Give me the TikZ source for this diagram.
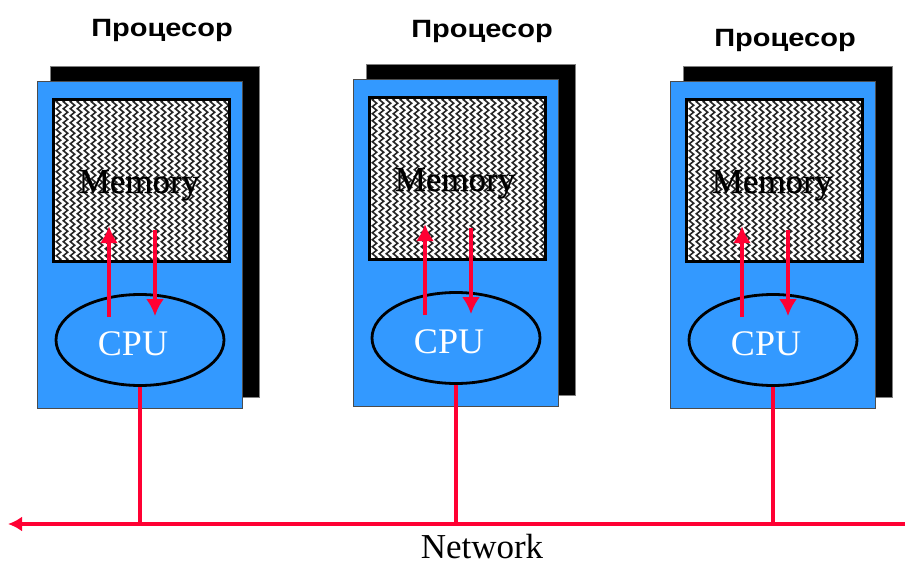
\documentclass[tikz,border=0pt]{standalone}
\usepackage{fontspec}
\setmainfont{Liberation Serif}
\newfontfamily\titlefont[FakeStretch=1.16]{Liberation Sans}
\newfontfamily\memfont[FakeBold=0.6]{Liberation Serif}
\usetikzlibrary{arrows.meta,shapes.geometric,decorations.pathmorphing,calc}
\definecolor{procblue}{HTML}{3399FF}
\definecolor{netred}{HTML}{FF0033}
\begin{document}
\begin{tikzpicture}[x=1pt,y=-1pt,
  shadowbox/.style={fill=black,draw=black!50,line width=0.8pt,minimum width=209pt,minimum height=331pt,inner sep=0pt},
  procbox/.style={fill=procblue,draw=black!70,line width=1pt,minimum width=205pt,minimum height=326pt,inner sep=0pt},
  membox/.style={draw=black,line width=3pt,fill=white,minimum width=176pt,minimum height=162pt,inner sep=0pt,
    path picture={\foreach \k in {0,...,27}{\draw[black!85,line width=1.6pt,decorate,decoration={zigzag,segment length=7pt,amplitude=2.2pt}] ($(path picture bounding box.north west)+(\k*7-2,-10)$) -- ($(path picture bounding box.south west)+(\k*7-2,10)$);}}},
  memtext/.style={font=\memfont\fontsize{35}{40}\selectfont,inner sep=0pt,anchor=base},
  cpunode/.style={ellipse,draw=black,line width=2.8pt,fill=procblue,minimum width=168pt,minimum height=91pt,inner sep=0pt},
  cputext/.style={text=white,font=\fontsize{36}{40}\selectfont,inner sep=0pt,anchor=base},
  titlenode/.style={font=\titlefont\bfseries\fontsize{25}{28}\selectfont,inner sep=0pt},
  memarrow/.style={draw=netred,line width=3.5pt,-{Latex[length=17pt,width=18pt]}},
  netline/.style={draw=netred,line width=3.5pt}
]
\useasboundingbox (0,0) rectangle (905,567);
\coordinate (nl) at (8,524);
\coordinate (nr) at (922,524);
\foreach \i/\bx/\by/\tx/\ty in {1/37/82/162/30, 2/353/80/482/31, 3/670/82/785/40}{
  \node[titlenode] (t\i) at (\tx,\ty) {Процесор};
  \node[shadowbox] (s\i) at (\bx+117.5,\by+149.5) {};
  \node[procbox] (p\i) at (\bx+102.5,\by+163) {};
  \node[membox] (m\i) at (\bx+104.5,\by+98.5) {};
  \node[memtext] (mt\i) at (\bx+102,\by+111) {Memory};
  \node[cpunode] (c\i) at (\bx+103,\by+258) {};
  \node[cputext] (ct\i) at (\bx+96,\by+273) {CPU};
  \draw[memarrow] ([shift={(-31,24)}]c\i.north) -- ([shift={(-31,-67)}]c\i.north);
  \draw[memarrow] ([shift={(15,-63)}]c\i.north) -- ([shift={(15,23)}]c\i.north);
  \draw[netline] (c\i.south) -- (c\i.south |- nl);
}
\draw[netline,{Latex[length=14pt,width=15pt]}-{Latex[length=14pt,width=15pt]}] (nl) -- (nr);
\node[font=\fontsize{35}{40}\selectfont,inner sep=0pt,anchor=base] (net) at (482,558) {Network};
\end{tikzpicture}
\end{document}
